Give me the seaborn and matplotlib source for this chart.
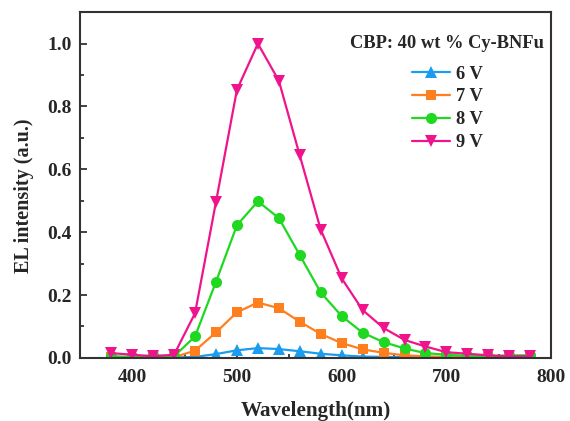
import matplotlib
matplotlib.use("Agg")
import matplotlib.pyplot as plt
import seaborn as sns
import pandas as pd
from matplotlib.ticker import MultipleLocator, FormatStrFormatter

wavelength = [380, 400, 420, 440, 460, 480, 500, 520, 540, 560, 580,
              600, 620, 640, 660, 680, 700, 720, 740, 760, 780]
v6 = [0.002, 0.001, 0.001, 0.001, 0.003, 0.012, 0.024, 0.031, 0.028, 0.021, 0.013,
      0.008, 0.004, 0.003, 0.002, 0.002, 0.001, 0.001, 0.001, 0.001, 0.001]
v7 = [0.002, 0.001, 0.001, 0.002, 0.023, 0.081, 0.145, 0.176, 0.158, 0.115, 0.076,
      0.047, 0.027, 0.016, 0.008, 0.005, 0.003, 0.002, 0.002, 0.002, 0.002]
v8 = [0.005, 0.003, 0.008, 0.005, 0.068, 0.242, 0.422, 0.498, 0.445, 0.327, 0.208,
      0.133, 0.080, 0.050, 0.030, 0.015, 0.010, 0.006, 0.005, 0.008, 0.008]
v9 = [0.015, 0.010, 0.005, 0.010, 0.142, 0.496, 0.853, 1.000, 0.882, 0.644, 0.408,
      0.253, 0.152, 0.095, 0.057, 0.036, 0.018, 0.013, 0.008, 0.005, 0.005]

labels = ["6 V", "7 V", "8 V", "9 V"]
series = [v6, v7, v8, v9]
colors = ["#1a9cf0", "#ff7f1e", "#1fd81f", "#f0148c"]
markers = ["^", "s", "o", "v"]
msizes = [8.5, 7, 8, 8.5]

sns.set_theme(style="ticks")
plt.rcParams["font.family"] = ["Liberation Serif", "DejaVu Serif"]
plt.rcParams["font.weight"] = "bold"

fig = plt.figure(figsize=(5.7, 4.21), dpi=100)
ax = fig.add_axes([0.140, 0.150, 0.827, 0.821])

for lab, vals, col, mk, ms in zip(labels, series, colors, markers, msizes):
    df = pd.DataFrame({"wl": wavelength, "I": vals})
    sns.lineplot(data=df, x="wl", y="I", ax=ax, color=col, marker=mk,
                 markersize=ms, markeredgewidth=0, linewidth=1.6, label=lab)

ax.set_xlim(350, 800)
ax.set_ylim(0, 1.1)
ax.xaxis.set_major_locator(MultipleLocator(100))
ax.xaxis.set_minor_locator(MultipleLocator(50))
ax.yaxis.set_major_locator(MultipleLocator(0.2))
ax.yaxis.set_minor_locator(MultipleLocator(0.1))
ax.yaxis.set_major_formatter(FormatStrFormatter("%.1f"))
ax.tick_params(which="both", direction="in", width=1.3, labelsize=14,
               color="#333333")
ax.tick_params(axis="y", pad=6)
ax.tick_params(axis="x", pad=8)
ax.tick_params(which="major", length=5)
ax.tick_params(which="minor", length=3)
for s in ax.spines.values():
    s.set_linewidth(1.5)
    s.set_color("#333333")

ax.set_xlabel("Wavelength(nm)", fontsize=15.2, fontweight="bold", labelpad=11)
ax.set_ylabel("EL intensity (a.u.)", fontsize=14.5, fontweight="bold",
              labelpad=9, y=0.47)

leg = ax.legend(title="CBP: 40 wt % Cy-BNFu", loc="upper right",
                bbox_to_anchor=(0.985, 0.935), frameon=False,
                fontsize=13.3, title_fontproperties={"weight": "bold", "size": 13.3},
                handlelength=2.1, handletextpad=0.3, labelspacing=0.32,
                borderaxespad=0, borderpad=0)
leg._legend_box.sep = 10
for t in leg.get_texts():
    t.set_fontweight("bold")

fig.savefig("out.png", dpi=100)
